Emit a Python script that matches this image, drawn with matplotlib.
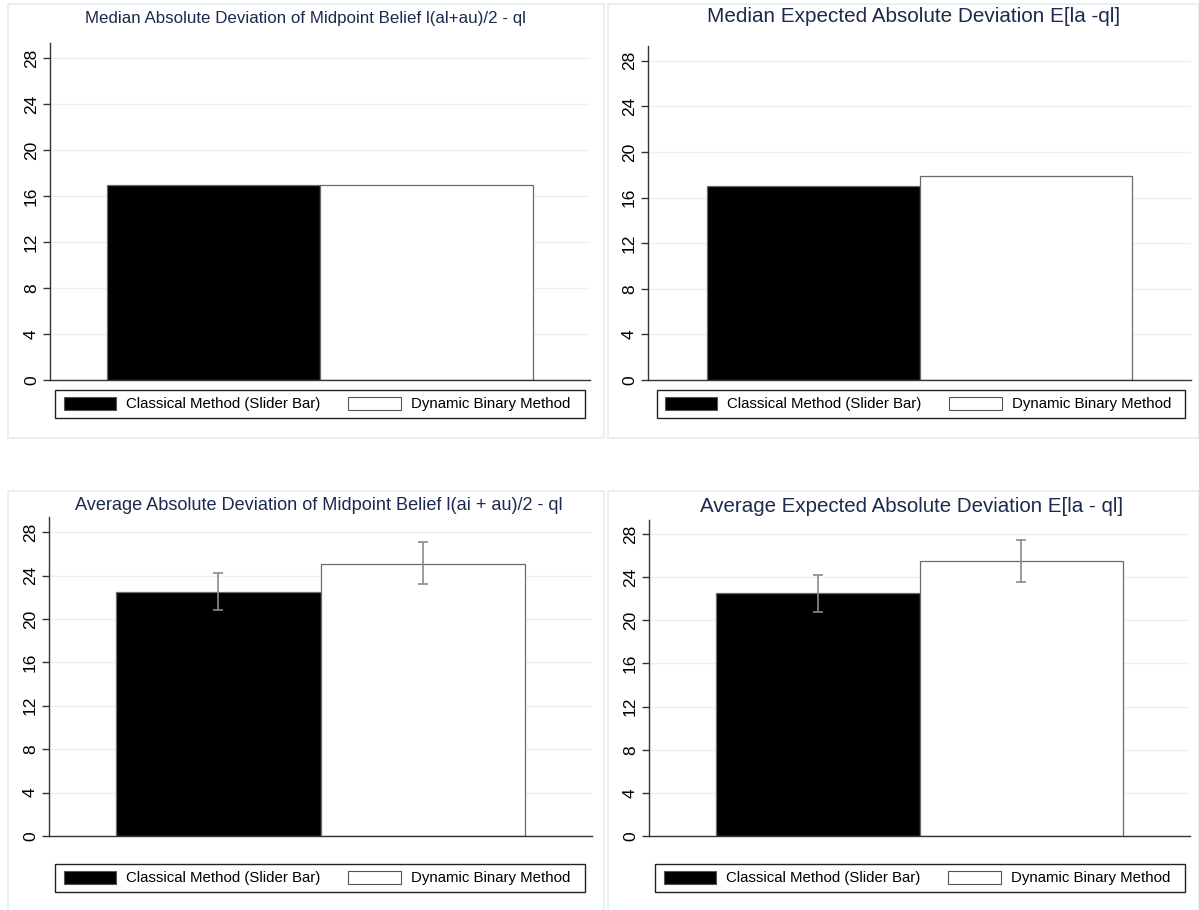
import matplotlib
matplotlib.use("Agg")
import matplotlib.pyplot as plt
from matplotlib.patches import Rectangle, Patch

plt.rcParams['font.family'] = ['Liberation Sans', 'DejaVu Sans']

# ---- data ----
methods = ["Classical Method (Slider Bar)", "Dynamic Binary Method"]
titles = [
    "Median Absolute Deviation of Midpoint Belief l(al+au)/2 - ql",
    "Median Expected Absolute Deviation E[la -ql]",
    "Average Absolute Deviation of Midpoint Belief l(ai + au)/2 - ql",
    "Average Expected Absolute Deviation E[la - ql]",
]
values = [
    [17.0, 17.0],
    [17.0, 17.9],
    [22.5, 25.1],
    [22.5, 25.5],
]
err_low = [None, None, [20.8, 23.2], [20.8, 23.55]]
err_high = [None, None, [24.25, 27.05], [24.2, 27.4]]
yticks = [0, 4, 8, 12, 16, 20, 24, 28]

W, H = 1199, 910
fig = plt.figure(figsize=(W / 100, H / 100), dpi=100)

def fx(x):
    return x / W

def fy(y):
    return 1 - y / H

# panel frames (pixels: left, top, right, bottom)
frames = [(8, 4, 604, 438), (608, 4, 1199, 438), (8, 491, 604, 915), (608, 491, 1199, 915)]
for (l, t, r, b) in frames:
    fig.add_artist(Rectangle((fx(l), fy(b)), fx(r - l), (b - t) / H, transform=fig.transFigure,
                             facecolor='white', edgecolor='#e3edf0', lw=1.2, zorder=0))

# axes (pixels: left, right, y of top, y of zero, top ylim)
axes_px = [(50, 590, 43, 380, 29.33), (648, 1191, 46, 380, 29.3),
           (49, 592, 517, 836, 29.4), (649, 1190, 520, 836, 29.3)]
xmargins = [0.27, 0.28, 0.33, 0.33]
title_sizes = [12.2, 14.9, 13.1, 14.8]
title_x = [305, 914, 319, 912]
title_y = [18, 17, 506, 506]
legend_px = [(55, 585, 390, 418), (657, 1185, 390, 418), (55, 585, 864, 892), (655, 1185, 864, 892)]

for i in range(4):
    l, r, t, z, ytop = axes_px[i]
    ax = fig.add_axes([fx(l), fy(z), fx(r - l), (z - t) / H])
    ax.set_ylim(0, ytop)
    m = xmargins[i]
    ax.set_xlim(-0.5 - m, 1.5 + m)
    for k, v in enumerate(values[i]):
        ax.bar(k, v, width=1.0, color='black' if k == 0 else 'white',
               edgecolor='#6b6b6b', linewidth=0.9, zorder=2)
    if err_low[i] is not None:
        for k in range(2):
            lo, hi = err_low[i][k], err_high[i][k]
            ax.errorbar(k, values[i][k], yerr=[[values[i][k] - lo], [hi - values[i][k]]],
                        fmt='none', ecolor='#8a8a8a', elinewidth=1.2, capsize=3.5, capthick=1.2, zorder=3)
    ax.set_yticks(yticks)
    ax.set_yticklabels([str(v) for v in yticks], rotation=90, va='center', fontsize=12.5)
    ax.set_xticks([])
    ax.grid(axis='y', color='#eaf2f3', linewidth=1.0, zorder=0)
    ax.set_axisbelow(True)
    for s in ['top', 'right']:
        ax.spines[s].set_visible(False)
    ax.spines['left'].set_color('#333333')
    ax.spines['bottom'].set_color('#333333')
    ax.spines['left'].set_linewidth(1.0)
    ax.spines['bottom'].set_linewidth(1.0)
    ax.tick_params(axis='y', length=5, width=1.0, color='#333333', pad=3)
    ax.patch.set_alpha(0)

    fig.text(fx(title_x[i]), fy(title_y[i]), titles[i], ha='center', va='center',
             fontsize=title_sizes[i], color='#1b2a4e')

    ll, lr, lt, lb = legend_px[i]
    fig.add_artist(Rectangle((fx(ll), fy(lb)), fx(lr - ll), (lb - lt) / H, transform=fig.transFigure,
                             facecolor='white', edgecolor='#222222', lw=1.0, zorder=1))
    handles = [Patch(facecolor='black', edgecolor='#555555', linewidth=0.8),
               Patch(facecolor='white', edgecolor='#555555', linewidth=0.8)]
    leg = fig.legend(handles, methods, loc='center', ncol=2,
                     bbox_to_anchor=(fx((ll + lr) / 2 - 3), fy((lt + lb) / 2)),
                     bbox_transform=fig.transFigure, fontsize=10.8, frameon=False,
                     handlelength=3.5, handleheight=1.0, handletextpad=0.67, borderaxespad=0,
                     borderpad=0.0, columnspacing=1.85)
    leg.set_zorder(2)

fig.savefig("out.png", dpi=100)
